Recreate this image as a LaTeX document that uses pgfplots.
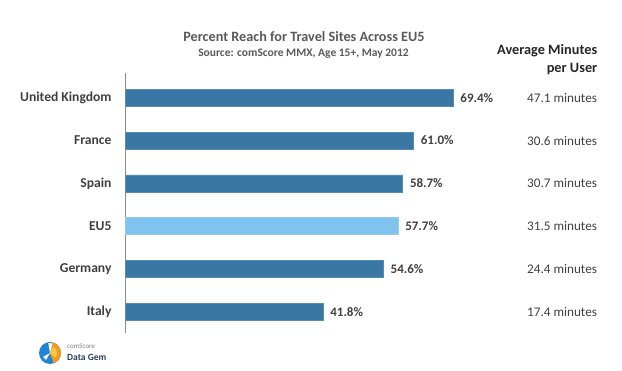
\documentclass[border=0pt]{standalone}
\usepackage{pgfplots}
\pgfplotsset{compat=1.18}
\usepackage{fontspec}
\setmainfont{Carlito}
\definecolor{barblue}{HTML}{3A77A5}
\definecolor{barlight}{HTML}{7EC4EF}
\definecolor{labgray}{HTML}{404040}
\definecolor{titgray}{HTML}{595959}
\definecolor{axgray}{HTML}{8A8A8A}
\definecolor{logoblue}{HTML}{1E86D4}
\definecolor{logoorange}{HTML}{F39A1E}
\definecolor{logoyellow}{HTML}{F8CC46}
\definecolor{logonavy}{HTML}{283C5F}
\pgfplotstableread{
y val
0 41.8
1 54.6
3 58.7
4 61.0
5 69.4
}\mainbars
\pgfplotstableread{
y val
2 57.7
}\eubar
\pgfplotstableread{
y x min
0 100 {17.4 minutes}
1 100 {24.4 minutes}
2 100 {31.5 minutes}
3 100 {30.7 minutes}
4 100 {30.6 minutes}
5 100 {47.1 minutes}
}\minutes
\begin{document}
\begin{tikzpicture}
\path[use as bounding box] (0,0) rectangle (622pt,371pt);
\begin{axis}[
  at={(125.7pt,38pt)}, anchor=south west,
  scale only axis, width=471.5pt, height=260pt,
  xmin=0, xmax=100, ymin=-0.5, ymax=5.58,
  axis x line=none, axis y line=left,
  y axis line style={-, draw=axgray, line width=0.8pt},
  ytick={0,1,2,3,4,5},
  yticklabels={Italy,Germany,EU5,Spain,France,United Kingdom},
  major tick length=0pt,
  y tick label style={font=\fontsize{13.6}{15}\selectfont\bfseries, text=labgray, inner sep=0pt, xshift=-14pt},
  clip=false,
]
\addplot[xbar, bar width=17pt, bar shift=0pt, fill=barblue, draw=barblue!85!white,
  nodes near coords={\pgfmathprintnumber[fixed,fixed zerofill,precision=1,assume math mode=true]{\pgfplotspointmeta}\%},
  nodes near coords align={horizontal},
  every node near coord/.append style={font=\fontsize{13}{15}\selectfont\bfseries, text=labgray, anchor=west, xshift=4pt}]
  table[x=val, y=y] {\mainbars};
\addplot[xbar, bar width=17pt, bar shift=0pt, fill=barlight, draw=barlight!85!white,
  nodes near coords={\pgfmathprintnumber[fixed,fixed zerofill,precision=1,assume math mode=true]{\pgfplotspointmeta}\%},
  nodes near coords align={horizontal},
  every node near coord/.append style={font=\fontsize{13}{15}\selectfont\bfseries, text=labgray, anchor=west, xshift=4pt}]
  table[x=val, y=y] {\eubar};
\addplot[draw=none, mark=none, nodes near coords, point meta=explicit symbolic,
  every node near coord/.append style={font=\fontsize{13.2}{15}\selectfont, text=labgray, anchor=east, inner sep=0pt}]
  table[x=x, y=y, meta=min] {\minutes};
\end{axis}
% titles
\node[font=\fontsize{14.2}{16}\selectfont\bfseries, text=titgray] at (304pt,334pt) {Percent Reach for Travel Sites Across EU5};
\node[font=\fontsize{11.5}{13}\selectfont\bfseries, text=titgray] at (303.5pt,317pt) {Source: comScore MMX, Age 15+, May 2012};
\node[font=\fontsize{14.3}{16}\selectfont\bfseries, text=black!85, anchor=east, inner sep=0pt] at (597.5pt,320pt) {Average Minutes};
\node[font=\fontsize{14.3}{16}\selectfont\bfseries, text=black!85, anchor=east, inner sep=0pt] at (597.5pt,302.5pt) {per User};
% logo
\fill[logoblue] (50pt,18pt) circle (11pt);
\fill[logoorange] (50pt,18pt) -- ++(80:11pt) arc (80:-70:11pt) -- cycle;
\fill[logoyellow] (50pt,18pt) -- ++(60:7pt) arc (60:-40:7pt) -- cycle;
\fill[white] (50pt,18pt) -- ++(100:10pt) arc (100:75:10pt) -- cycle;
\fill[white] (50pt,18pt) -- ++(210:8pt) arc (210:240:8pt) -- cycle;
\node[font=\fontsize{7}{8}\selectfont\scshape, text=gray, anchor=west, inner sep=0pt] at (67pt,25pt) {comScore};
\node[font=\fontsize{9.5}{11}\selectfont\bfseries, text=logonavy, anchor=west, inner sep=0pt] at (67pt,14pt) {Data Gem};
\end{tikzpicture}
\end{document}
